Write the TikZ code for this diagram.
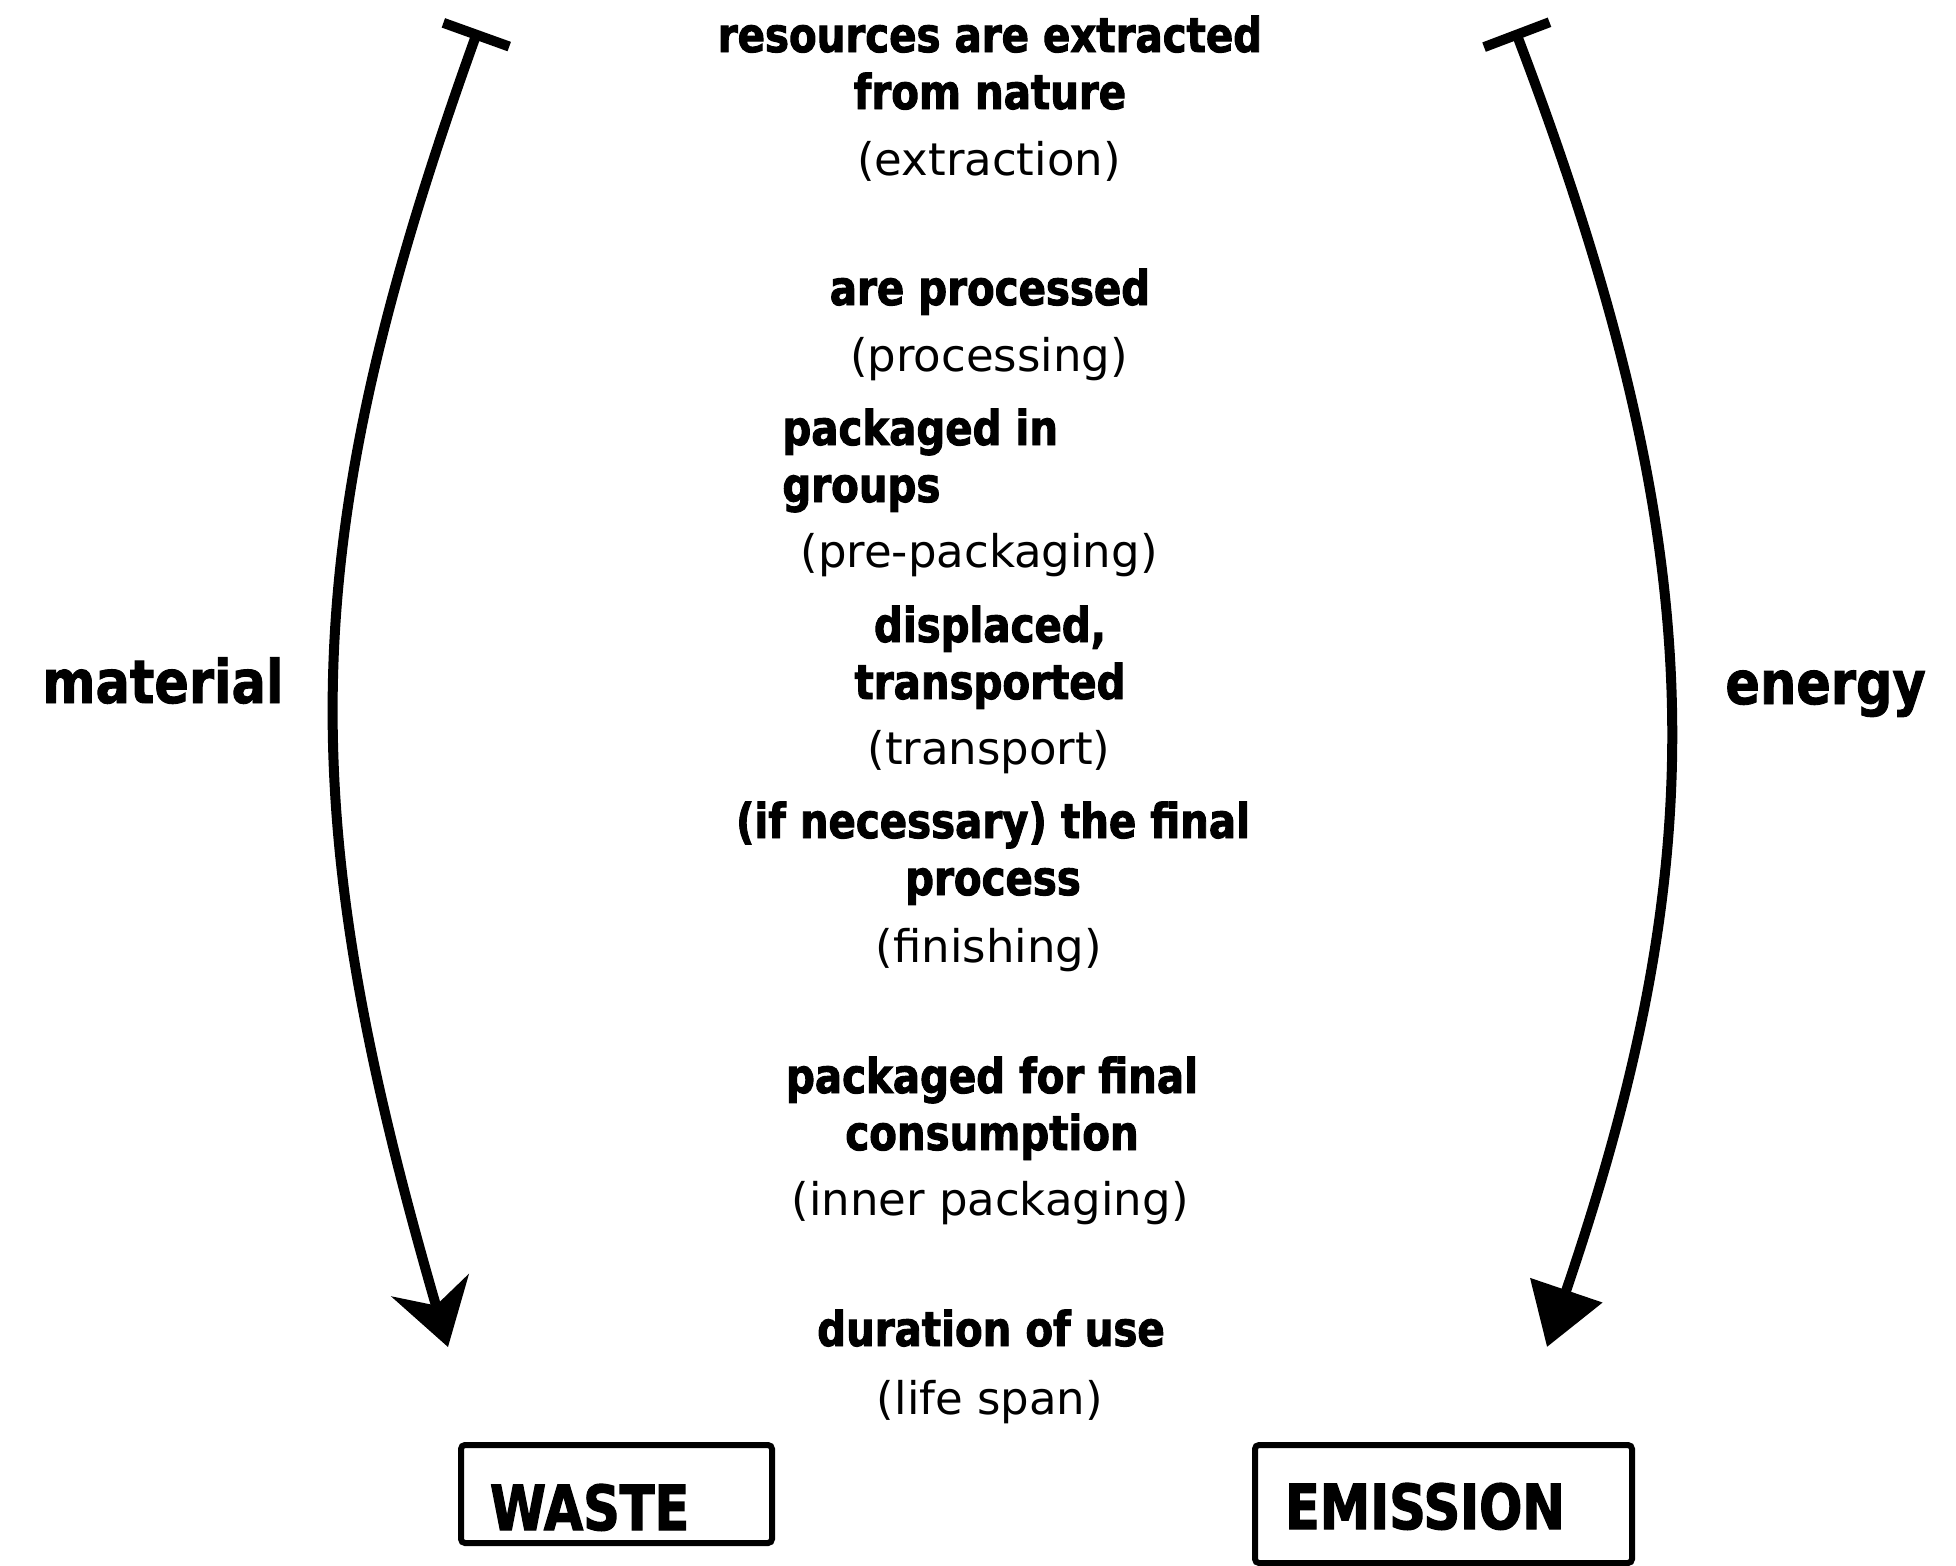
\documentclass[tikz,border=0pt]{standalone}
\usepackage{fontspec}
\setmainfont{DejaVu Sans}
\newfontfamily\stepfont{DejaVu Sans}[FakeStretch=0.84, FakeBold=2]
\newfontfamily\notefont{DejaVu Sans}
\newfontfamily\sidefont{DejaVu Sans}[FakeStretch=0.85, FakeBold=1.5]
\newfontfamily\boxfont{DejaVu Sans}[FakeStretch=0.82, FakeBold=2]
\usetikzlibrary{arrows.meta}
\tikzset{
  stepbold/.style={anchor=base, align=center, inner sep=0pt, font={\stepfont\bfseries\fontsize{24pt}{28.5pt}\selectfont}},
  note/.style={anchor=base, inner sep=0pt, font={\notefont\fontsize{22.5pt}{26pt}\selectfont}},
  side/.style={anchor=base west, inner sep=0pt, font={\sidefont\bfseries\fontsize{30pt}{36pt}\selectfont}},
  endbox/.style={anchor=base west, draw, line width=3pt, rounded corners=2pt, inner ysep=0pt, inner xsep=14.5pt, align=left, font={\boxfont\bfseries\fontsize{31pt}{36pt}\selectfont}},
  flow/.style={line width=5pt, line cap=round}
}

\begin{document}
\begin{tikzpicture}[x=0.5pt, y=-0.5pt]
    \useasboundingbox (0,0) rectangle (1956,1565);
    % steps (two-line nodes sit on their last baseline)
    \node[stepbold] (extract) at (990,109) {resources are extracted\\from nature};
    \node[note] (extractNote) at (989,175) {(extraction)};
    \node[stepbold] (process) at (990,305) {are processed};
    \node[note] (processNote) at (989,371) {(processing)};
    \node[stepbold, anchor=base west, align=left] (group) at (782,502) {packaged in\\groups};
    \node[note] (groupNote) at (979,567) {(pre-packaging)};
    \node[stepbold] (transport) at (990,699) {displaced,\\transported};
    \node[note] (transportNote) at (989,764) {(transport)};
    \node[stepbold] (finish) at (993,895) {(if necessary) the final\\process};
    \node[note] (finishNote) at (989,962) {(finishing)};
    \node[stepbold] (inner) at (992,1150) {packaged for final\\consumption};
    \node[note] (innerNote) at (990,1215) {(inner packaging)};
    \node[stepbold] (life) at (991,1346) {duration of use};
    \node[note] (lifeNote) at (990,1414) {(life span)};
    % sides
    \node[side] (material) at (42,703) {material};
    \node[side] (energy) at (1725,704) {energy};
    % end boxes
    \node[endbox, text width=126.5pt, text height=42.5pt, text depth=6.5pt] (waste) at (458,1530) {WASTE};
    \node[endbox, text width=158.5pt, text height=42pt, text depth=17pt, inner xsep=15pt] (emission) at (1252,1529) {EMISSION};
    % arcs
    \coordinate (matTop) at (478,30);
    \coordinate (matEnd) at (448,1347);
    \coordinate (enTop) at (1515,30);
    \coordinate (enEnd) at (1547,1347);
    \draw[flow, {Bar[width=35pt]}-{Stealth[length=32pt, width=40pt]}] (matTop) .. controls (292,547) and (292,809) .. (matEnd);
    \draw[flow, {Bar[width=35pt]}-{Triangle[length=30pt, width=37pt]}] (enTop) .. controls (1715,556) and (1715,853) .. (enEnd);
\end{tikzpicture}
\end{document}
